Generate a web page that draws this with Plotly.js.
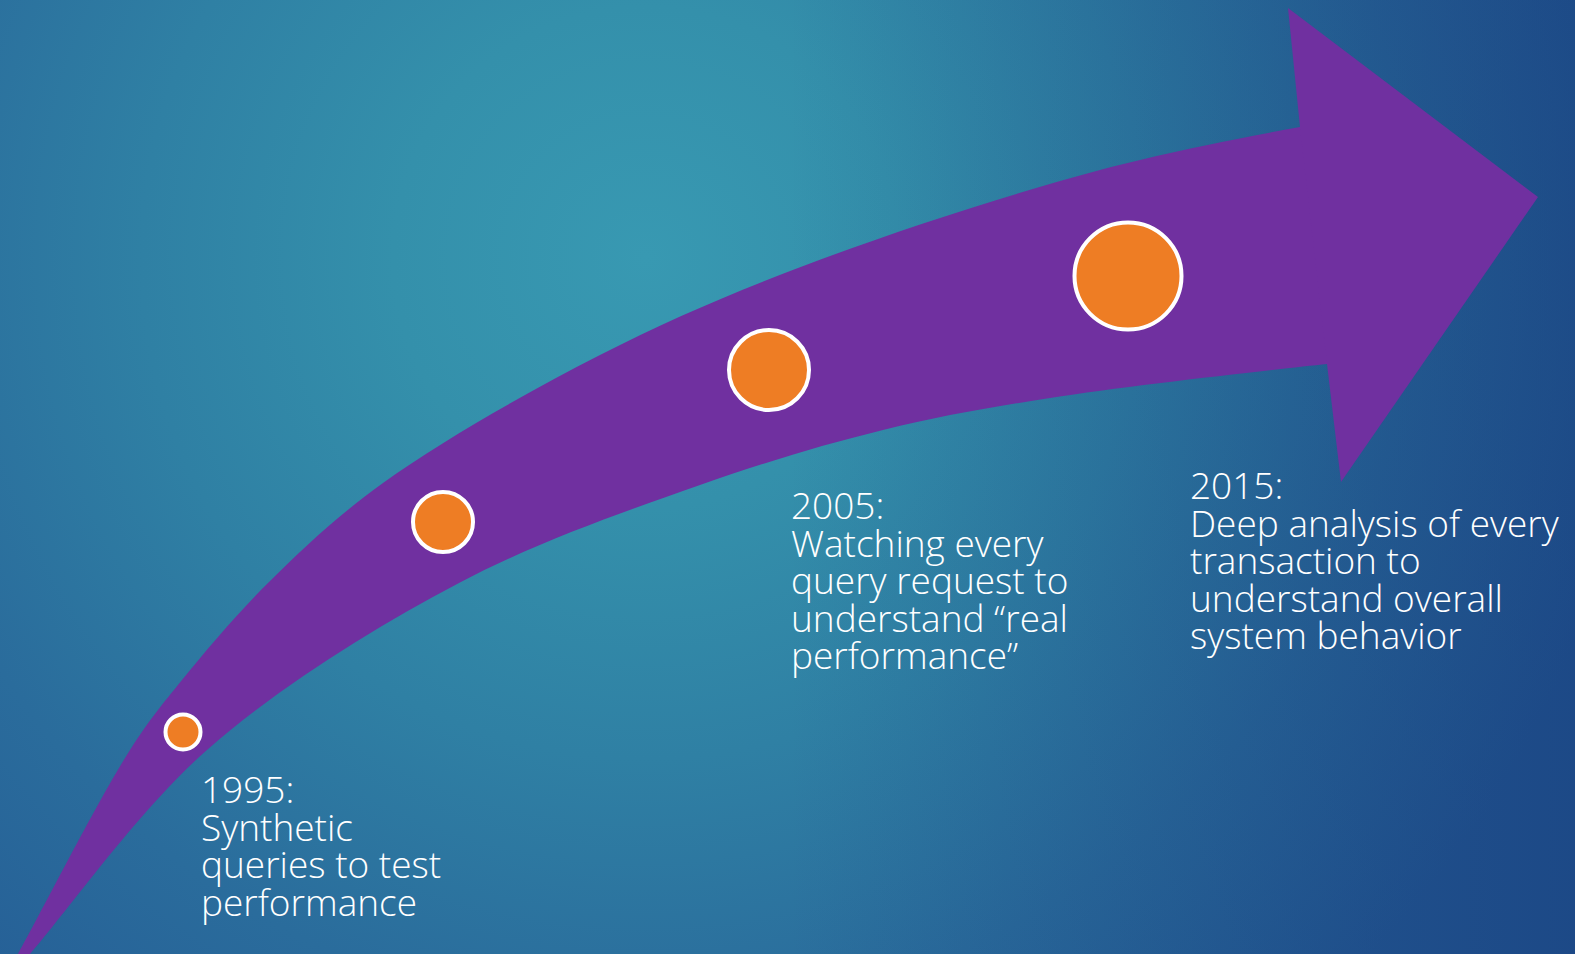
<!DOCTYPE html>
<html>
<head>
<meta charset="utf-8">
<script src="https://cdn.plot.ly/plotly-3.0.1.min.js"></script>
<style>
  html, body { margin: 0; padding: 0; width: 1575px; height: 954px; overflow: hidden; }
  body {
    background:
      linear-gradient(to right, rgba(16,42,112,0) 50%, rgba(16,42,112,0.4) 100%),
      radial-gradient(ellipse 64% 105% at 41% 27%, #3899b2 0%, #3490ab 25%, #2f80a4 50%, #2a6c9c 76%, #255e96 100%);
  }
  #chart { width: 1575px; height: 954px; }
</style>
</head>
<body>
<div id="chart"></div>
<script>
// ---- Data (pixel space of the slide) ----
// Upper edge of the curved arrow body (from the tail tip up to the head)
const arrowTopX = [-3, 18, 130, 182, 268, 383, 600, 806, 1100, 1300, 1360];
const arrowTopY = [991, 954, 750, 680, 583, 483, 355, 265, 170, 127, 118];
// Lower edge of the curved arrow body (from the tail tip up to the head)
const arrowBottomX = [-3, 30, 207, 459, 700, 883, 1050, 1327, 1360];
const arrowBottomY = [991, 954, 750, 583, 485, 430, 398, 364, 361];
// Arrow head outline
const arrowHeadX = [1300, 1288, 1538, 1341, 1327];
const arrowHeadY = [127, 8, 197, 482, 364];

// Milestone circles along the arrow
const milestoneYears = [1995, 2000, 2005, 2015];
const milestoneX = [183, 443, 769, 1128];
const milestoneY = [732, 522, 370, 276];
const milestoneSize = [35, 60, 80, 107];

// Text blocks
const labelX = [200, 790, 1189];
const labelFirstBaseline = [802, 518, 498];
const labelLines = [
  ["1995:", "Synthetic", "queries to test", "performance"],
  ["2005:", "Watching every", "query request to", "understand \u201creal", "performance\u201d"],
  ["2015:", "Deep analysis of every", "transaction to", "understand overall", "system behavior"]
];

// ---- Styling ----
const PURPLE = "#7030a0";
const ORANGE = "#ee7d24";
const GLYPH_SIZE = 37;          // visible text size
const LINE_GAP = 37.5;          // distance between baselines (tight, as on the slide)
const BASE_SIZE = LINE_GAP / 1.3; // Plotly spaces lines at 1.3em of the base font
const FONT = { family: "Open Sans, DejaVu Sans, sans-serif", size: BASE_SIZE, color: "#ffffff", weight: 300 };

const bodyX = arrowTopX.concat(arrowBottomX.slice().reverse());
const bodyY = arrowTopY.concat(arrowBottomY.slice().reverse());

const traces = [
  {
    type: "scatter", mode: "lines", x: bodyX, y: bodyY,
    fill: "toself", fillcolor: PURPLE,
    line: { color: PURPLE, width: 0, shape: "spline", smoothing: 1 },
    hoverinfo: "skip"
  },
  {
    type: "scatter", mode: "lines", x: arrowHeadX, y: arrowHeadY,
    fill: "toself", fillcolor: PURPLE,
    line: { color: PURPLE, width: 0 },
    hoverinfo: "skip"
  },
  {
    type: "scatter", mode: "markers", x: milestoneX, y: milestoneY,
    text: milestoneYears.map(String),
    marker: { size: milestoneSize, color: ORANGE, opacity: 1, line: { color: "#ffffff", width: 4 } },
    hoverinfo: "text"
  }
];

const annotations = labelLines.map((lines, b) => ({
  x: labelX[b], y: labelFirstBaseline[b] - 40,
  xref: "x", yref: "y",
  text: lines.map(t => '<span style="font-size:' + GLYPH_SIZE + 'px">' + t + '</span>').join("<br>"),
  showarrow: false,
  xanchor: "left", yanchor: "top", align: "left",
  borderpad: 0, font: FONT
}));

const layout = {
  width: 1575, height: 954,
  margin: { l: 0, r: 0, t: 0, b: 0, pad: 0 },
  paper_bgcolor: "rgba(0,0,0,0)", plot_bgcolor: "rgba(0,0,0,0)",
  showlegend: false,
  xaxis: { range: [0, 1575], visible: false, fixedrange: true },
  yaxis: { range: [954, 0], visible: false, fixedrange: true },
  annotations: annotations
};

Plotly.newPlot("chart", traces, layout, { displayModeBar: false, staticPlot: true });
</script>
</body>
</html>
